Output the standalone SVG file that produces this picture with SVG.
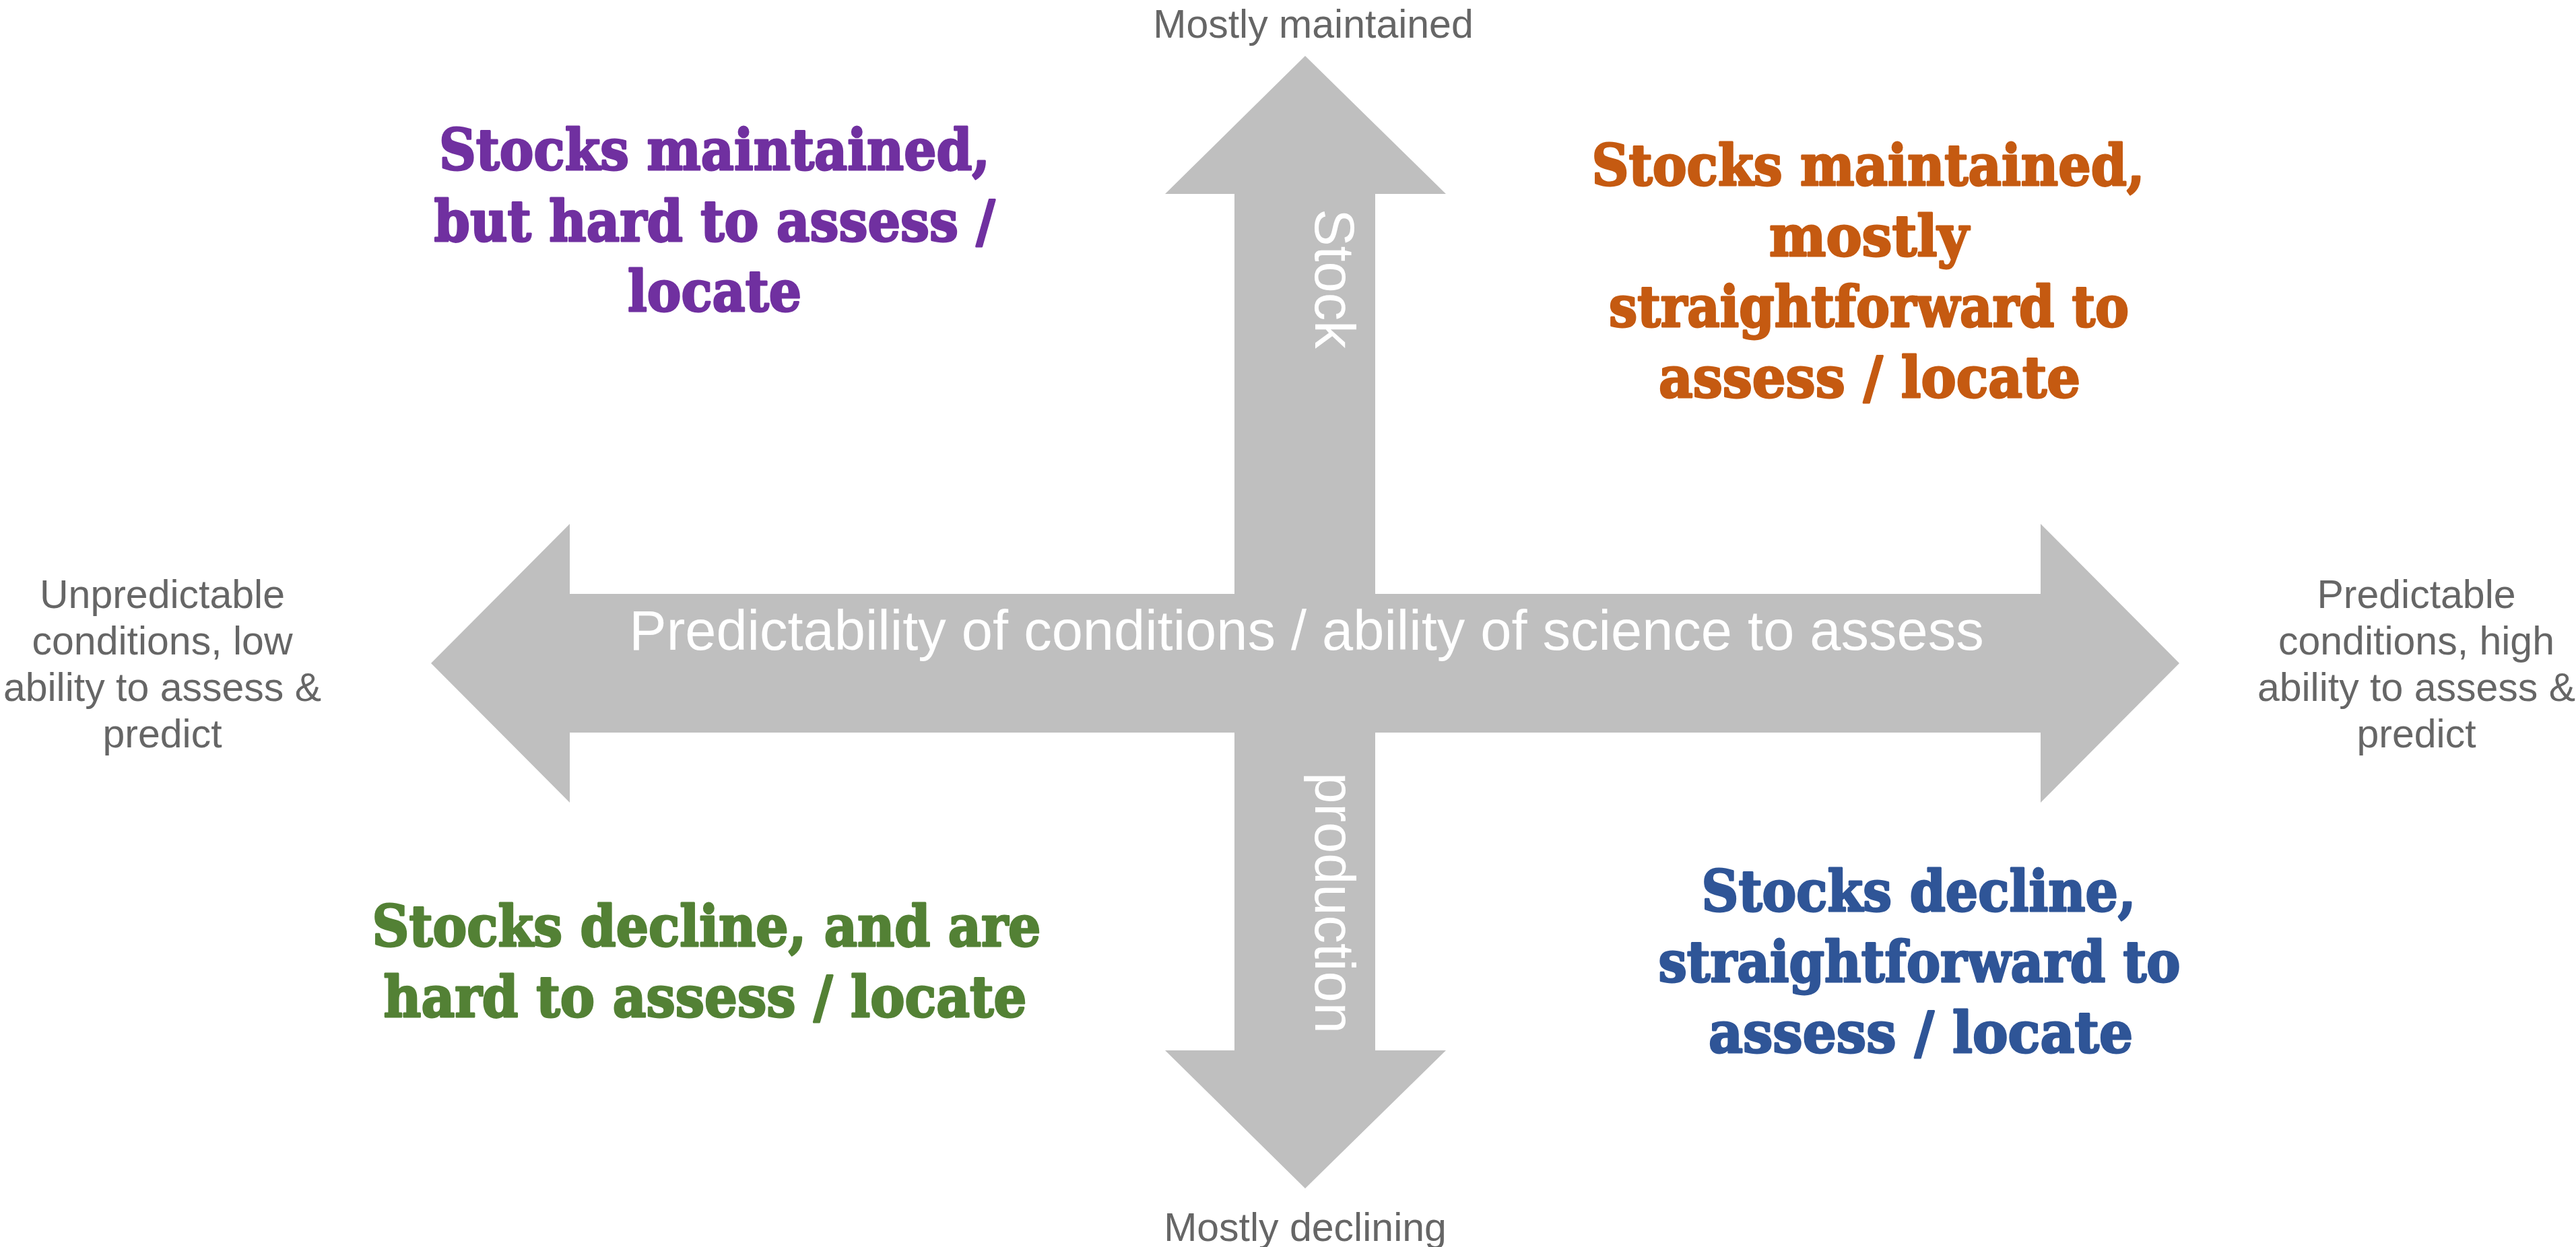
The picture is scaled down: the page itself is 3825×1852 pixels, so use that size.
<svg xmlns="http://www.w3.org/2000/svg" width="3825" height="1852" viewBox="0 0 3825 1852">
<style>
.axis{fill:#BFBFBF;stroke:none}
.lbl{font-family:"Liberation Sans",Arial,Helvetica,sans-serif;font-size:59px;fill:#666666;text-anchor:middle}
.ax{font-family:"Liberation Sans",Arial,Helvetica,sans-serif;font-size:83px;fill:#FFFFFF;text-anchor:middle}
.q{font-family:"DejaVu Serif","Liberation Serif",serif;font-weight:bold;font-size:85px;text-anchor:middle;stroke-width:3;stroke-linejoin:round}
.purple{fill:#7030A0;stroke:#7030A0}
.orange{fill:#C55A11;stroke:#C55A11}
.green{fill:#538135;stroke:#538135}
.blue{fill:#2F5597;stroke:#2F5597}
</style>
<rect x="0" y="0" width="3825" height="1852" fill="#FFFFFF"/>
<g id="axes">
<polygon class="axis" points="640,985 846,778 846,882 3030,882 3030,778 3236,985 3030,1192 3030,1088 846,1088 846,1192"/>
<polygon class="axis" points="1938,83 2147,288 2042,288 2042,1560 2147,1560 1938,1765 1730,1560 1833,1560 1833,288 1730,288"/>
</g>
<g id="axis-labels">
<text class="ax" x="1940" y="965">Predictability of conditions / ability of science to assess</text>
<text class="ax" transform="translate(1953,414) rotate(90)" x="0" y="0">Stock</text>
<text class="ax" transform="translate(1953,1341) rotate(90)" x="0" y="0">production</text>
</g>
<g id="top-label"><text class="lbl" x="1950" y="56">Mostly maintained</text></g>
<g id="bottom-label"><text class="lbl" x="1938" y="1843">Mostly declining</text></g>
<g id="left-label">
<text class="lbl" x="241" y="903">Unpredictable</text>
<text class="lbl" x="241" y="972">conditions, low</text>
<text class="lbl" x="241" y="1041">ability to assess &amp;</text>
<text class="lbl" x="241" y="1110">predict</text>
</g>
<g id="right-label">
<text class="lbl" x="3588" y="903">Predictable</text>
<text class="lbl" x="3588" y="972">conditions, high</text>
<text class="lbl" x="3588" y="1041">ability to assess &amp;</text>
<text class="lbl" x="3588" y="1110">predict</text>
</g>
<g id="q-top-left" class="q purple">
<text x="1061" y="252" textLength="818" lengthAdjust="spacingAndGlyphs">Stocks maintained,</text>
<text x="1061" y="358" textLength="833" lengthAdjust="spacingAndGlyphs">but hard to assess /</text>
<text x="1061" y="462" textLength="258" lengthAdjust="spacingAndGlyphs">locate</text>
</g>
<g id="q-top-right" class="q orange">
<text x="2774" y="275" textLength="821" lengthAdjust="spacingAndGlyphs">Stocks maintained,</text>
<text x="2775" y="380" textLength="296" lengthAdjust="spacingAndGlyphs">mostly</text>
<text x="2775" y="485" textLength="772" lengthAdjust="spacingAndGlyphs">straightforward to</text>
<text x="2776" y="590" textLength="626" lengthAdjust="spacingAndGlyphs">assess / locate</text>
</g>
<g id="q-bottom-left" class="q green">
<text x="1049" y="1405" textLength="993" lengthAdjust="spacingAndGlyphs">Stocks decline, and are</text>
<text x="1047" y="1510" textLength="955" lengthAdjust="spacingAndGlyphs">hard to assess / locate</text>
</g>
<g id="q-bottom-right" class="q blue">
<text x="2849" y="1353" textLength="645" lengthAdjust="spacingAndGlyphs">Stocks decline,</text>
<text x="2850" y="1458" textLength="775" lengthAdjust="spacingAndGlyphs">straightforward to</text>
<text x="2852" y="1563" textLength="630" lengthAdjust="spacingAndGlyphs">assess / locate</text>
</g>
</svg>
